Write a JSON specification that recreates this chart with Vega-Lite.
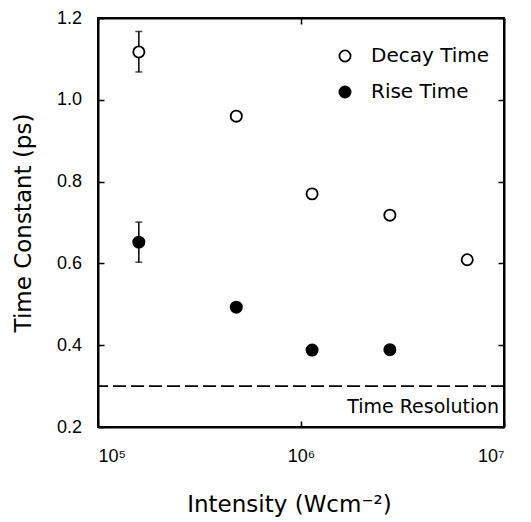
{
  "$schema": "https://vega.github.io/schema/vega-lite/v6.json",
  "width": 406,
  "height": 409,
  "autosize": {"type": "none"},
  "padding": {"left": 98, "top": 18, "right": 27, "bottom": 95},
  "background": "white",
  "config": {
    "font": "DejaVu Sans",
    "view": {"stroke": "black", "strokeWidth": 2},
    "axis": {
      "grid": false,
      "domainColor": "black",
      "domainWidth": 2,
      "tickColor": "black",
      "tickWidth": 1.5,
      "tickSize": -6,
      "labelFont": "Liberation Sans",
      "labelFontSize": 18,
      "labelColor": "black",
      "titleFont": "DejaVu Sans",
      "titleFontSize": 23,
      "titleFontWeight": "normal",
      "titleColor": "black"
    }
  },
  "datasets": {
    "pts": [
      {"intensity": 158900, "tau": 1.117, "series": "Decay Time"},
      {"intensity": 480000, "tau": 0.96, "series": "Decay Time"},
      {"intensity": 1134000, "tau": 0.77, "series": "Decay Time"},
      {"intensity": 2740000, "tau": 0.718, "series": "Decay Time"},
      {"intensity": 6590000, "tau": 0.609, "series": "Decay Time"},
      {"intensity": 158900, "tau": 0.652, "series": "Rise Time"},
      {"intensity": 480000, "tau": 0.493, "series": "Rise Time"},
      {"intensity": 1134000, "tau": 0.388, "series": "Rise Time"},
      {"intensity": 2740000, "tau": 0.389, "series": "Rise Time"}
    ],
    "err": [
      {"intensity": 158900, "lo": 1.068, "hi": 1.167},
      {"intensity": 158900, "lo": 0.603, "hi": 0.701}
    ],
    "res": [{"level": 0.3, "label": "Time Resolution", "lx": 9450000, "ly": 0.248}]
  },
  "resolve": {"axis": {"x": "independent", "y": "independent"}},
  "layer": [
    {
      "data": {"name": "res"},
      "mark": {"type": "rule", "strokeDash": [13, 5], "strokeWidth": 1.8, "color": "black"},
      "encoding": {
        "y": {"field": "level", "type": "quantitative", "scale": {"domain": [0.2, 1.2], "nice": false, "zero": false},
          "axis": {"orient": "left", "values": [0.2, 0.4, 0.6, 0.8, 1.0, 1.2], "format": ".1f", "title": "Time Constant (ps)", "labelPadding": 22.5, "titlePadding": 21}}
      }
    },
    {
      "data": {"name": "err"},
      "mark": {"type": "rule", "strokeWidth": 1.5, "color": "black"},
      "encoding": {
        "x": {"field": "intensity", "type": "quantitative", "scale": {"type": "log", "domain": [100000, 10000000], "nice": false},
          "axis": {"orient": "bottom", "values": [100000, 1000000, 10000000], "labelExpr": "'10' + (datum.value < 500000 ? '⁵' : datum.value < 5000000 ? '⁶' : '⁷')", "title": "Intensity (Wcm⁻²)", "labelPadding": 26, "titlePadding": 28, "titleX": 191}},
        "y": {"field": "lo", "type": "quantitative", "axis": {"orient": "right", "values": [0.2, 0.4, 0.6, 0.8, 1.0, 1.2], "labels": false, "title": null}},
        "y2": {"field": "hi"}
      }
    },
    {
      "data": {"name": "err"},
      "mark": {"type": "tick", "orient": "horizontal", "size": 7, "thickness": 1.5, "color": "black"},
      "encoding": {
        "x": {"field": "intensity", "type": "quantitative", "axis": {"orient": "top", "values": [100000, 1000000, 10000000], "labels": false, "title": null}},
        "y": {"field": "lo", "type": "quantitative", "axis": null}
      }
    },
    {
      "data": {"name": "err"},
      "mark": {"type": "tick", "orient": "horizontal", "size": 7, "thickness": 1.5, "color": "black"},
      "encoding": {
        "x": {"field": "intensity", "type": "quantitative", "axis": null},
        "y": {"field": "hi", "type": "quantitative", "axis": null}
      }
    },
    {
      "data": {"name": "pts"},
      "mark": {"type": "point", "shape": "circle", "size": 125, "strokeWidth": 1.8, "stroke": "black", "opacity": 1},
      "encoding": {
        "x": {"field": "intensity", "type": "quantitative", "axis": null},
        "y": {"field": "tau", "type": "quantitative", "axis": null},
        "fill": {"field": "series", "type": "nominal",
          "scale": {"domain": ["Decay Time", "Rise Time"], "range": ["white", "black"]},
          "legend": {"orient": "none", "legendX": 237, "legendY": 28, "title": null, "symbolType": "circle", "symbolSize": 125, "symbolStrokeColor": "black", "symbolStrokeWidth": 1.8, "symbolOpacity": 1, "labelFontSize": 20, "labelFont": "DejaVu Sans", "labelColor": "black", "labelOffset": 16, "rowPadding": 16, "padding": 0}
        }
      }
    },
    {
      "data": {"name": "res"},
      "mark": {"type": "text", "align": "right", "baseline": "middle", "fontSize": 19, "font": "DejaVu Sans", "color": "black"},
      "encoding": {
        "x": {"field": "lx", "type": "quantitative", "axis": null},
        "y": {"field": "ly", "type": "quantitative", "axis": null},
        "text": {"field": "label"}
      }
    }
  ]
}
